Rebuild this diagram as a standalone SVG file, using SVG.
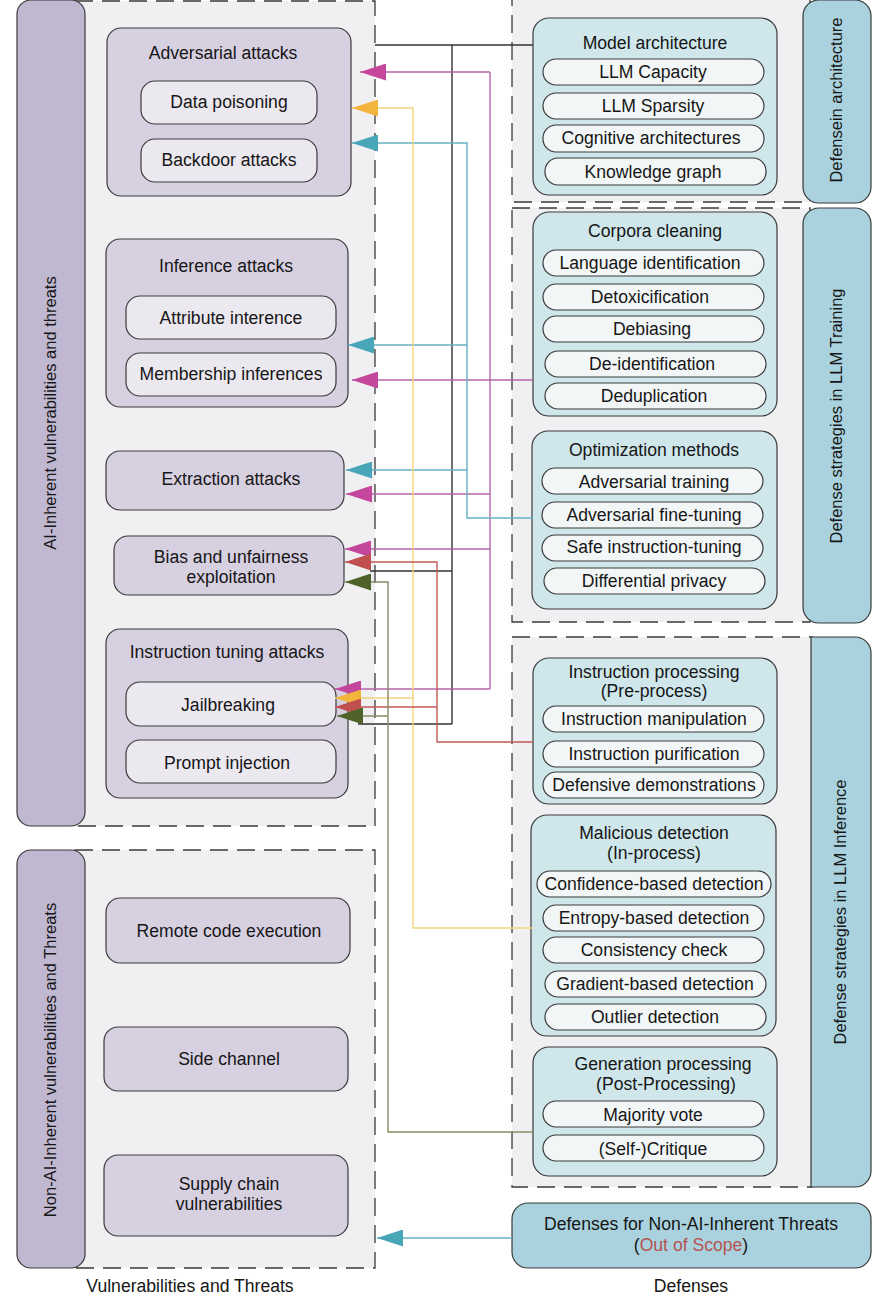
<svg xmlns="http://www.w3.org/2000/svg" width="886" height="1297" viewBox="0 0 886 1297">
<style>
text{font-family:"Liberation Sans",Arial,sans-serif;font-size:17.6px;fill:#161616;text-anchor:middle;dominant-baseline:central}
.rot{font-size:16.5px}
.cont{fill:#f0f0f2;stroke:#3a3a3a;stroke-width:1.3;stroke-dasharray:18 9}
.pbar{fill:#c0b7d1;stroke:#3a3a3a;stroke-width:1.2}
.att{fill:#d6d0e1;stroke:#3a3a3a;stroke-width:1.2}
.item{fill:#ebe8f0;stroke:#3a3a3a;stroke-width:1.2}
.tbar{fill:#a9d2de;stroke:#3a3a3a;stroke-width:1.2}
.def{fill:#cfe6eb;stroke:#3a3a3a;stroke-width:1.2}
.pill{fill:#f3f6f7;stroke:#3a3a3a;stroke-width:1.2}
.c{fill:none;stroke-width:1.4}
.k{stroke:#333333}
.m{stroke:#b664ab}
.t{stroke:#66b1c3}
.y{stroke:#f2d37f}
.r{stroke:#c25a57}
.o{stroke:#8b8b68}
</style>
<defs>
<marker id="am" markerUnits="userSpaceOnUse" markerWidth="26" markerHeight="17" refX="26" refY="8.5" orient="auto"><path d="M0,0 L26,8.5 L0,17 z" fill="#c4479d"/></marker>
<marker id="at" markerUnits="userSpaceOnUse" markerWidth="26" markerHeight="17" refX="26" refY="8.5" orient="auto"><path d="M0,0 L26,8.5 L0,17 z" fill="#48a6b8"/></marker>
<marker id="ay" markerUnits="userSpaceOnUse" markerWidth="26" markerHeight="17" refX="26" refY="8.5" orient="auto"><path d="M0,0 L26,8.5 L0,17 z" fill="#f2b43a"/></marker>
<marker id="ar" markerUnits="userSpaceOnUse" markerWidth="26" markerHeight="17" refX="26" refY="8.5" orient="auto"><path d="M0,0 L26,8.5 L0,17 z" fill="#c0504d"/></marker>
<marker id="ao" markerUnits="userSpaceOnUse" markerWidth="26" markerHeight="17" refX="26" refY="8.5" orient="auto"><path d="M0,0 L26,8.5 L0,17 z" fill="#4f6228"/></marker>
</defs>
<rect width="886" height="1297" fill="#ffffff"/>

<!-- containers -->
<g id="containers">
<rect class="cont" x="75" y="1" width="300" height="825"/>
<rect class="cont" x="75" y="850" width="300" height="418"/>
<rect class="cont" x="512" y="-5" width="298" height="207"/>
<rect class="cont" x="512" y="208" width="298" height="414"/>
<rect class="cont" x="512" y="637" width="300" height="550"/>
</g>

<!-- left category bars -->
<g id="bar-ai-inherent">
<rect class="pbar" x="17" y="0" width="68" height="826" rx="14"/>
<text class="rot" transform="translate(50,413) rotate(-90)">AI-Inherent vulnerabilities and threats</text>
</g>
<g id="bar-non-ai">
<rect class="pbar" x="17" y="850" width="68" height="418" rx="14"/>
<text class="rot" transform="translate(50,1060) rotate(-90)">Non-AI-Inherent vulnerabilities and Threats</text>
</g>

<!-- attack nodes -->
<g id="adversarial-attacks">
<rect class="att" x="107" y="28" width="244" height="168" rx="14"/>
<text x="223" y="53">Adversarial attacks</text>
<g id="data-poisoning"><rect class="item" x="141" y="81" width="176" height="43" rx="14"/><text x="229" y="102">Data poisoning</text></g>
<g id="backdoor-attacks"><rect class="item" x="141" y="139" width="176" height="43" rx="14"/><text x="229" y="160">Backdoor attacks</text></g>
</g>
<g id="inference-attacks">
<rect class="att" x="106" y="239" width="242" height="168" rx="14"/>
<text x="226" y="266">Inference attacks</text>
<g id="attribute-interence"><rect class="item" x="126" y="296" width="210" height="43" rx="14"/><text x="231" y="318">Attribute interence</text></g>
<g id="membership-inferences"><rect class="item" x="126" y="353" width="210" height="43" rx="14"/><text x="231" y="374">Membership inferences</text></g>
</g>
<g id="extraction-attacks">
<rect class="att" x="106" y="451" width="238" height="59" rx="14"/>
<text x="231" y="479">Extraction attacks</text>
</g>
<g id="bias-exploitation">
<rect class="att" x="114" y="536" width="230" height="59" rx="14"/>
<text x="231" y="557">Bias and unfairness</text>
<text x="231" y="577">exploitation</text>
</g>
<g id="instruction-tuning-attacks">
<rect class="att" x="106" y="629" width="242" height="169" rx="14"/>
<text x="227" y="652">Instruction tuning attacks</text>
<g id="jailbreaking"><rect class="item" x="126" y="682" width="210" height="44" rx="14"/><text x="228" y="705">Jailbreaking</text></g>
<g id="prompt-injection"><rect class="item" x="126" y="740" width="210" height="43" rx="14"/><text x="227" y="763">Prompt injection</text></g>
</g>
<g id="remote-code-execution">
<rect class="att" x="106" y="898" width="244" height="65" rx="14"/>
<text x="229" y="931">Remote code execution</text>
</g>
<g id="side-channel">
<rect class="att" x="104" y="1027" width="244" height="64" rx="14"/>
<text x="229" y="1059">Side channel</text>
</g>
<g id="supply-chain">
<rect class="att" x="104" y="1155" width="244" height="81" rx="14"/>
<text x="229" y="1184">Supply chain</text>
<text x="229" y="1204">vulnerabilities</text>
</g>

<!-- right category bars -->
<g id="bar-architecture">
<rect class="tbar" x="803" y="0" width="68" height="203" rx="16"/>
<text class="rot" transform="translate(836,100) rotate(-90)">Defensein architecture</text>
</g>
<g id="bar-training">
<rect class="tbar" x="803" y="208" width="68" height="415" rx="16"/>
<text class="rot" transform="translate(836,416) rotate(-90)">Defense strategies in LLM Training</text>
</g>
<g id="bar-inference">
<path class="tbar" d="M811,637 H855 A16,16 0 0 1 871,653 V1171 A16,16 0 0 1 855,1187 H811 Z"/>
<text class="rot" transform="translate(840,912) rotate(-90)">Defense strategies in LLM Inference</text>
</g>

<!-- defense nodes -->
<g id="model-architecture">
<rect class="def" x="533" y="18" width="244" height="177" rx="16"/>
<text x="655" y="43">Model architecture</text>
<g id="llm-capacity"><rect class="pill" x="543" y="59" width="221" height="26" rx="13"/><text x="653" y="72">LLM Capacity</text></g>
<g id="llm-sparsity"><rect class="pill" x="543" y="93" width="221" height="26" rx="13"/><text x="653" y="106">LLM Sparsity</text></g>
<g id="cognitive-architectures"><rect class="pill" x="543" y="125" width="221" height="27" rx="13"/><text x="651" y="138">Cognitive architectures</text></g>
<g id="knowledge-graph"><rect class="pill" x="545" y="158" width="221" height="27" rx="13"/><text x="653" y="172">Knowledge graph</text></g>
</g>
<g id="corpora-cleaning">
<rect class="def" x="533" y="212" width="244" height="204" rx="16"/>
<text x="655" y="231">Corpora cleaning</text>
<g id="language-identification"><rect class="pill" x="543" y="250" width="221" height="26" rx="13"/><text x="650" y="263">Language identification</text></g>
<g id="detoxicification"><rect class="pill" x="543" y="284" width="221" height="26" rx="13"/><text x="650" y="297">Detoxicification</text></g>
<g id="debiasing"><rect class="pill" x="543" y="316" width="221" height="26" rx="13"/><text x="652" y="329">Debiasing</text></g>
<g id="de-identification"><rect class="pill" x="545" y="351" width="221" height="26" rx="13"/><text x="652" y="364">De-identification</text></g>
<g id="deduplication"><rect class="pill" x="545" y="383" width="221" height="26" rx="13"/><text x="654" y="396">Deduplication</text></g>
</g>
<g id="optimization-methods">
<rect class="def" x="532" y="431" width="245" height="178" rx="16"/>
<text x="654" y="450">Optimization methods</text>
<g id="adversarial-training"><rect class="pill" x="542" y="468" width="221" height="26" rx="13"/><text x="654" y="482">Adversarial training</text></g>
<g id="adversarial-fine-tuning"><rect class="pill" x="542" y="502" width="221" height="26" rx="13"/><text x="654" y="515">Adversarial fine-tuning</text></g>
<g id="safe-instruction-tuning"><rect class="pill" x="542" y="535" width="221" height="26" rx="13"/><text x="654" y="547">Safe instruction-tuning</text></g>
<g id="differential-privacy"><rect class="pill" x="544" y="568" width="221" height="26" rx="13"/><text x="654" y="581">Differential privacy</text></g>
</g>
<g id="instruction-processing">
<rect class="def" x="533" y="658" width="244" height="146" rx="16"/>
<text x="654" y="672">Instruction processing</text>
<text x="654" y="691">(Pre-process)</text>
<g id="instruction-manipulation"><rect class="pill" x="543" y="706" width="221" height="26" rx="13"/><text x="654" y="719">Instruction manipulation</text></g>
<g id="instruction-purification"><rect class="pill" x="543" y="741" width="221" height="26" rx="13"/><text x="654" y="754">Instruction purification</text></g>
<g id="defensive-demonstrations"><rect class="pill" x="543" y="772" width="221" height="26" rx="13"/><text x="654" y="785">Defensive demonstrations</text></g>
</g>
<g id="malicious-detection">
<rect class="def" x="531" y="815" width="245" height="221" rx="16"/>
<text x="654" y="833">Malicious detection</text>
<text x="654" y="853">(In-process)</text>
<g id="confidence-based-detection"><rect class="pill" x="537" y="871" width="234" height="26" rx="13"/><text x="654" y="884">Confidence-based detection</text></g>
<g id="entropy-based-detection"><rect class="pill" x="543" y="905" width="221" height="26" rx="13"/><text x="654" y="918">Entropy-based detection</text></g>
<g id="consistency-check"><rect class="pill" x="543" y="937" width="221" height="26" rx="13"/><text x="654" y="950">Consistency check</text></g>
<g id="gradient-based-detection"><rect class="pill" x="545" y="971" width="221" height="26" rx="13"/><text x="655" y="984">Gradient-based detection</text></g>
<g id="outlier-detection"><rect class="pill" x="545" y="1004" width="221" height="26" rx="13"/><text x="655" y="1017">Outlier detection</text></g>
</g>
<g id="generation-processing">
<rect class="def" x="533" y="1047" width="244" height="129" rx="16"/>
<text x="663" y="1064">Generation processing</text>
<text x="666" y="1084">(Post-Processing)</text>
<g id="majority-vote"><rect class="pill" x="543" y="1101" width="221" height="26" rx="13"/><text x="653" y="1115">Majority vote</text></g>
<g id="self-critique"><rect class="pill" x="543" y="1135" width="221" height="26" rx="13"/><text x="653" y="1149">(Self-)Critique</text></g>
</g>
<g id="non-ai-defenses">
<rect class="tbar" x="512" y="1203" width="359" height="65" rx="16"/>
<text x="691" y="1224">Defenses for Non-AI-Inherent Threats</text>
<text x="691" y="1245">(<tspan style="fill:#b5524f">Out of Scope</tspan>)</text>
</g>

<!-- connectors -->
<g id="connectors">
<path class="c k" d="M533,45 H375"/>
<path class="c k" d="M452,45 V724"/>
<path class="c k" d="M452,571 H370"/>
<path class="c k" d="M452,724 H358"/>

<path class="c m" d="M490,72 V689"/>
<path class="c m" d="M490,72 H360" marker-end="url(#am)"/>
<path class="c m" d="M533,380 H352" marker-end="url(#am)"/>
<path class="c m" d="M490,494 H346" marker-end="url(#am)"/>
<path class="c m" d="M490,549 H345" marker-end="url(#am)"/>
<path class="c m" d="M490,689 H335" marker-end="url(#am)"/>

<path class="c t" d="M533,518 H467 V143 H352" marker-end="url(#at)"/>
<path class="c t" d="M467,345 H348" marker-end="url(#at)"/>
<path class="c t" d="M467,470 H346" marker-end="url(#at)"/>

<path class="c y" d="M533,928 H413 V108 H352" marker-end="url(#ay)"/>
<path class="c y" d="M413,698 H335" marker-end="url(#ay)"/>

<path class="c r" d="M533,742 H437 V562 H345" marker-end="url(#ar)"/>
<path class="c r" d="M437,707 H335" marker-end="url(#ar)"/>

<path class="c o" d="M533,1132 H388 V582 H345" marker-end="url(#ao)"/>
<path class="c o" d="M388,716 H337" marker-end="url(#ao)"/>

<path class="c t" d="M512,1238 H377" marker-end="url(#at)"/>
</g>

<!-- column labels -->
<g id="labels">
<text x="190" y="1286">Vulnerabilities and Threats</text>
<text x="691" y="1286">Defenses</text>
</g>
</svg>
